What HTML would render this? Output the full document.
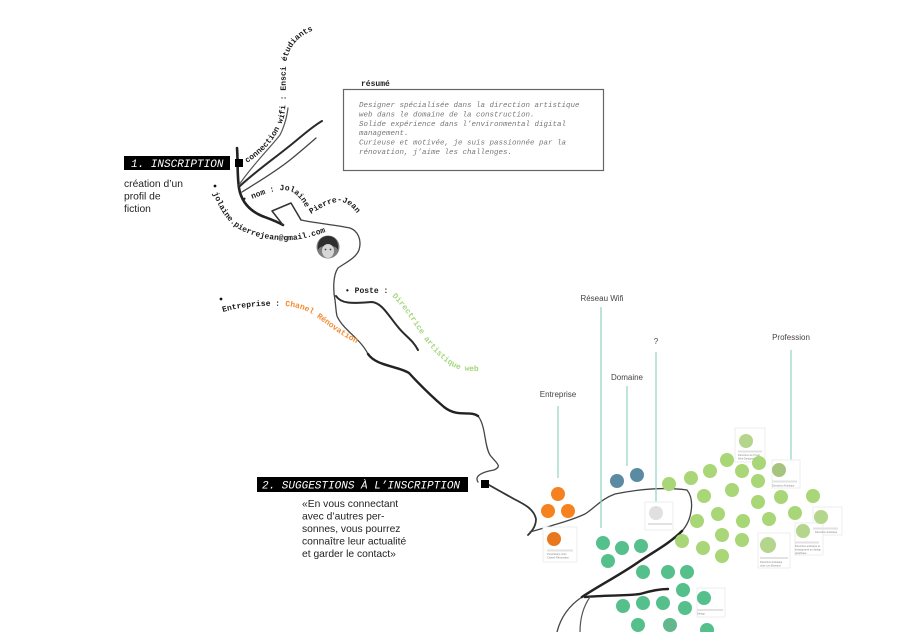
<!DOCTYPE html>
<html><head><meta charset="utf-8"><style>
html,body{margin:0;padding:0;background:#fff;}
svg{display:block;}
.m{font-family:"Liberation Mono",monospace;}
.s{font-family:"Liberation Sans",sans-serif;}
</style></head><body>
<svg width="900" height="632" viewBox="0 0 900 632" xmlns="http://www.w3.org/2000/svg">
<defs>
<path id="p1" d="M247,163 C264,152 278,137 284,117 C287,102 285,82 286,65 C288,47 298,36 314,30"/>
<path id="p2a" d="M243,202 C262,196 279,186 292,192 C299,196 304,203 307,211"/>
<path id="p2b" d="M311,214 C322,207 333,201 342,202 C351,204 357,212 361,221"/>
<path id="p3" d="M213,193 C220,210 228,225 245,232 C260,239 285,243 305,238 C315,236 325,232 335,229"/>
<path id="p4" d="M345,293 L388,293 C398,300 410,318 418,330 C430,348 442,362 458,369 C463,371 470,371 480,371"/>
<path id="p5" d="M223,312 C240,307 260,305 285,306 C300,307 310,312 318,318 C330,327 342,336 358,344"/>
</defs>
<rect width="900" height="632" fill="#fff"/>

<!-- roads -->
<g fill="none" stroke-linecap="round" stroke-linejoin="round">
<path d="M237,148 C238,160 237,175 239,188 C241,200 248,210 262,216 C270,219 276,221 283,225" stroke="#222" stroke-width="2.6"/>
<path d="M283,225 L272,211 L291,203 L301,220" stroke="#333" stroke-width="1.5"/>
<path d="M239,185 C250,168 268,150 280,135 C285,125 287,116 288,108" stroke="#555" stroke-width="1.2"/>
<path d="M240,186 C255,172 272,160 287,148 C300,138 310,128 322,121" stroke="#2a2a2a" stroke-width="2"/>
<path d="M242,192 C258,182 275,172 290,160 C300,152 308,145 316,138" stroke="#444" stroke-width="1.3"/>
<path d="M301,220 C315,223 335,225 350,228 C358,231 362,240 359,250 C356,258 345,263 338,268 C333,275 333,290 335,300 C336,308 336,312 337,316 C343,330 360,338 368,354 C376,366 398,366 409,373 C420,385 430,395 444,407 C458,418 470,410 478,416 C486,426 484,445 490,455 C496,463 503,466 494,470 C482,472 474,476 478,482" stroke="#444" stroke-width="1.3"/>
<path d="M368,354 C376,366 398,366 409,373 C420,385 430,395 444,407 C458,418 470,410 478,416" stroke="#222" stroke-width="2.4"/>
<path d="M336,296 C342,305 355,303 372,302 C382,303 388,315 398,327 C405,336 413,340 418,350" stroke="#2a2a2a" stroke-width="2"/>
<path d="M489,485 C498,490 505,494 514,499 C524,504 534,509 536,519 C536,527 531,532 528,535" stroke="#333" stroke-width="1.8"/>
<path d="M530,532 C550,526 570,521 585,514 C596,507 601,499 615,494 C640,489 665,487 687,490 C695,500 692,520 682,531 C670,543 655,551 640,561 C620,575 600,585 582,597 C567,607 560,620 557,632" stroke="#444" stroke-width="1.3"/>
<path d="M682,531 C670,543 655,551 640,561 C620,575 600,585 582,597" stroke="#222" stroke-width="2.5"/>
<path d="M585,597 C605,595 625,596 640,594 C650,591 660,589 668,589" stroke="#222" stroke-width="2.4"/>
<path d="M590,597 C583,607 580,620 580,632" stroke="#555" stroke-width="1.2"/>
</g>

<!-- inscription -->
<rect x="124" y="156" width="106" height="14" fill="#000"/>
<text x="131" y="167" class="m" font-size="11" font-style="italic" fill="#fff">1. INSCRIPTION</text>
<rect x="235" y="159" width="8" height="8" fill="#000"/>
<g class="s" font-size="10.3" fill="#222">
<text x="124" y="187">création d’un</text>
<text x="124" y="199.5">profil de</text>
<text x="124" y="212">fiction</text>
</g>

<!-- curved labels -->
<g class="m" font-size="8" font-weight="700" fill="#1a1a1a">
<text><textPath href="#p1">connection wifi : Ensci étudiants</textPath></text>
<text><textPath href="#p2a">• nom : Jolaine</textPath></text>
<text><textPath href="#p2b">Pierre-Jean</textPath></text>
<text><textPath href="#p3">jolaine.pierrejean@gmail.com</textPath></text>
<text><textPath href="#p4">• Poste : <tspan fill="#a6d67e">Directrice artistique web</tspan></textPath></text>
<text><textPath href="#p5">Entreprise : <tspan fill="#f58a2e">Chanel Rénovation</tspan></textPath></text>
</g>
<circle cx="215" cy="186" r="1.4" fill="#111"/>
<circle cx="221" cy="299" r="1.4" fill="#111"/>

<!-- avatar -->
<circle cx="328" cy="247" r="11.5" fill="#7d7d7d"/>
<path d="M318,250 C317,239 323,236 328,236 C334,236 339,240 338,250 C336,244 320,244 318,250Z" fill="#2e2e2e"/>
<ellipse cx="328" cy="251" rx="6" ry="7" fill="#d6d6d6"/>
<circle cx="325.5" cy="249.5" r="0.9" fill="#444"/>
<circle cx="330.5" cy="249.5" r="0.9" fill="#444"/>

<!-- resume -->
<text x="361" y="86" class="m" font-size="8" font-weight="700" fill="#222">résumé</text>
<rect x="343.5" y="89.5" width="260" height="81" fill="#fff" stroke="#666" stroke-width="1.2"/>
<g class="m" font-size="7.5" font-style="italic" fill="#777">
<text x="359" y="107">Designer spécialisée dans la direction artistique</text>
<text x="359" y="116.4">web dans le domaine de la construction.</text>
<text x="359" y="125.8">Solide expérience dans l’environmental digital</text>
<text x="359" y="135.2">management.</text>
<text x="359" y="144.6">Curieuse et motivée, je suis passionnée par la</text>
<text x="359" y="154">rénovation, j’aime les challenges.</text>
</g>

<!-- suggestions -->
<rect x="257" y="477" width="211" height="15" fill="#000"/>
<text x="262" y="488.5" class="m" font-size="11" font-style="italic" fill="#fff">2. SUGGESTIONS À L’INSCRIPTION</text>
<rect x="481" y="480" width="8" height="8" fill="#000"/>
<g class="s" font-size="10.3" fill="#222">
<text x="302" y="507">«En vous connectant</text>
<text x="302" y="519.5">avec d’autres per-</text>
<text x="302" y="532">sonnes, vous pourrez</text>
<text x="302" y="544.5">connaître leur actualité</text>
<text x="302" y="557">et garder le contact»</text>
</g>

<!-- category labels & lines -->
<g class="s" font-size="8" fill="#444" text-anchor="middle">
<text x="602" y="301">Réseau Wifi</text>
<text x="656" y="344">?</text>
<text x="627" y="380">Domaine</text>
<text x="558" y="397">Entreprise</text>
<text x="791" y="340">Profession</text>
</g>
<g stroke="#93d3c0" stroke-width="1.2">
<line x1="601" y1="307" x2="601" y2="528"/>
<line x1="656" y1="352" x2="656" y2="503"/>
<line x1="627" y1="386" x2="627" y2="466"/>
<line x1="558" y1="406" x2="558" y2="478"/>
<line x1="791" y1="350" x2="791" y2="460"/>
</g>

<!-- cards -->
<g fill="#fff" stroke="#eeeeee" stroke-width="1">
<rect x="543" y="527" width="34" height="35"/>
<rect x="645" y="502" width="28" height="28"/>
<rect x="735" y="428" width="30" height="34"/>
<rect x="772" y="460" width="28" height="28"/>
<rect x="813" y="507" width="29" height="28"/>
<rect x="795" y="523" width="28" height="32"/>
<rect x="758" y="533" width="32" height="35"/>
<rect x="697" y="588" width="28" height="29"/>
</g>
<g fill="#e2e2e2">
<rect x="547" y="549.5" width="26" height="2"/>
<rect x="648" y="523" width="24" height="2"/>
<rect x="738" y="450.5" width="24" height="2"/>
<rect x="772" y="480.5" width="25" height="2"/>
<rect x="813" y="527.5" width="25" height="2"/>
<rect x="795" y="541.5" width="24" height="2"/>
<rect x="760" y="557" width="28" height="2"/>
<rect x="697" y="609" width="26" height="2"/>
</g>
<g class="s" font-size="2.6" fill="#888">
<text x="547" y="555">Propriétaire chez</text>
<text x="547" y="558.5">Chanel Rénovation</text>
<text x="738" y="456">Directrice de Projet</text>
<text x="738" y="459.5">Web Designer</text>
<text x="772" y="486.5">Directrice Artistique</text>
<text x="815" y="533">Directrice artistique</text>
<text x="795" y="547">Directrice artistique et</text>
<text x="795" y="550.5">enseignante en design</text>
<text x="795" y="554">graphique</text>
<text x="760" y="563">Directrice Artistique</text>
<text x="760" y="566.5">chez Les Bureaux</text>
<text x="697" y="614.5">Design</text>
</g>

<!-- orange -->
<g fill="#f5821f">
<circle cx="558" cy="494" r="7"/>
<circle cx="548" cy="511" r="7"/>
<circle cx="568" cy="511" r="7"/>
</g>
<circle cx="554" cy="539" r="7" fill="#e8781f"/>
<!-- blue -->
<g fill="#5b8ba2">
<circle cx="617" cy="481" r="7"/>
<circle cx="637" cy="475" r="7"/>
</g>
<!-- gray -->
<circle cx="656" cy="513" r="7" fill="#e0e0e0"/>
<!-- teal -->
<g fill="#56c08c">
<circle cx="603" cy="543" r="7"/>
<circle cx="622" cy="548" r="7"/>
<circle cx="641" cy="546" r="7"/>
<circle cx="608" cy="561" r="7"/>
<circle cx="643" cy="572" r="7"/>
<circle cx="668" cy="572" r="7"/>
<circle cx="687" cy="572" r="7"/>
<circle cx="683" cy="590" r="7"/>
<circle cx="623" cy="606" r="7"/>
<circle cx="643" cy="603" r="7"/>
<circle cx="663" cy="603" r="7"/>
<circle cx="685" cy="608" r="7"/>
<circle cx="638" cy="625" r="7"/>
<circle cx="704" cy="598" r="7"/>
<circle cx="707" cy="630" r="7"/>
</g>
<circle cx="670" cy="625" r="7" fill="#62b88c"/>
<!-- light green -->
<g fill="#a9d677">
<circle cx="669" cy="484" r="7"/>
<circle cx="691" cy="478" r="7"/>
<circle cx="710" cy="471" r="7"/>
<circle cx="727" cy="460" r="7"/>
<circle cx="742" cy="471" r="7"/>
<circle cx="759" cy="463" r="7"/>
<circle cx="758" cy="481" r="7"/>
<circle cx="704" cy="496" r="7"/>
<circle cx="732" cy="490" r="7"/>
<circle cx="758" cy="502" r="7"/>
<circle cx="781" cy="497" r="7"/>
<circle cx="813" cy="496" r="7"/>
<circle cx="697" cy="521" r="7"/>
<circle cx="718" cy="514" r="7"/>
<circle cx="743" cy="521" r="7"/>
<circle cx="769" cy="519" r="7"/>
<circle cx="795" cy="513" r="7"/>
<circle cx="682" cy="541" r="7"/>
<circle cx="722" cy="535" r="7"/>
<circle cx="742" cy="540" r="7"/>
<circle cx="703" cy="548" r="7"/>
<circle cx="722" cy="556" r="7"/>
</g>
<g fill="#b3d58c">
<circle cx="746" cy="441" r="7"/>
<circle cx="779" cy="470" r="7" fill="#a7c47f"/>
<circle cx="821" cy="517" r="7"/>
<circle cx="803" cy="531" r="7"/>
<circle cx="768" cy="545" r="8"/>
</g>
</svg>
</body></html>
